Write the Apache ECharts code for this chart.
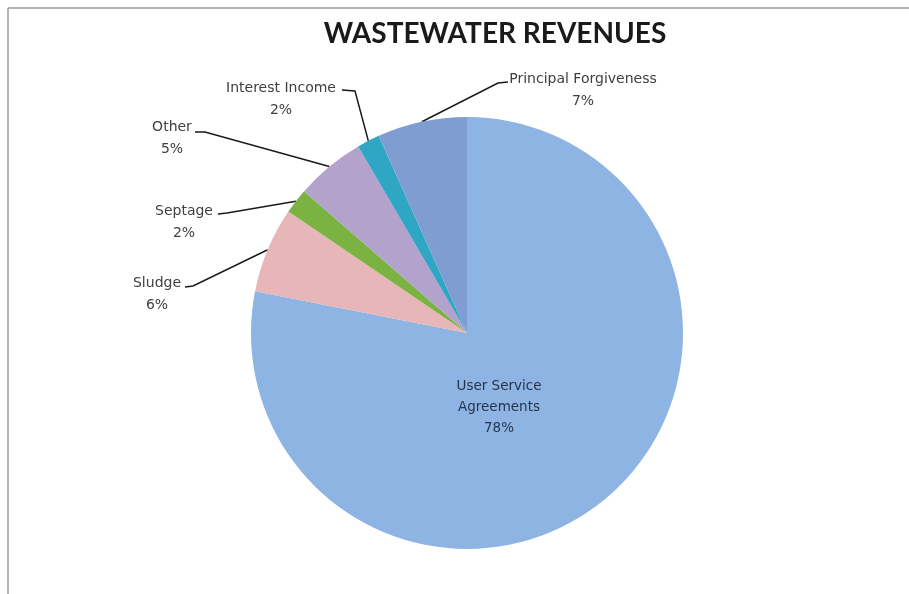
<!DOCTYPE html>
<html>
<head>
<meta charset="utf-8">
<script src="https://cdn.jsdelivr.net/npm/echarts@6/dist/echarts.min.js"></script>
<style>
html,body{margin:0;padding:0;background:#fff;}
#c{width:909px;height:594px;}
</style>
</head>
<body>
<div id="c"></div>
<script>
// Data
const categories = ['User Service Agreements', 'Sludge', 'Septage', 'Other', 'Interest Income', 'Principal Forgiveness'];
const labelNames = ['User Service\nAgreements', 'Sludge', 'Septage', 'Other', 'Interest Income', 'Principal Forgiveness'];
const values = [78.1, 6.4, 1.9, 5.2, 1.7, 6.7];
const titleText = 'WASTEWATER REVENUES';

// Styles
const colors = ['#8db4e2', '#e6b6b8', '#7ab342', '#b3a2cc', '#2ea6c4', '#7f9dd0'];
const labelPos = [
  { x: 499, y: 407 },
  { x: 157, y: 294, pts: [[193, 286], [185, 287]] },
  { x: 184, y: 222, pts: [[227, 213], [218, 214]] },
  { x: 172, y: 138, pts: [[205, 132], [195, 132]] },
  { x: 281, y: 99, pts: [[355, 91], [342, 90]] },
  { x: 583, y: 90, pts: [[498, 83], [508, 82]] }
];

const chart = echarts.init(document.getElementById('c'), null, { renderer: 'canvas' });
const data = categories.map((c, i) => ({
  name: c,
  value: values[i],
  itemStyle: { color: colors[i] },
  label: i === 0 ? { color: '#27344d', fontSize: 13.5, lineHeight: 21 } : {},
  labelLine: { show: i !== 0 }
}));

chart.setOption({
  animation: false,
  title: {
    text: titleText,
    left: 490,
    top: 15,
    textAlign: 'center',
    textStyle: { fontFamily: 'Lato', fontWeight: 'bold', fontSize: 28, color: '#1a1a1a' }
  },
  graphic: [
    { type: 'line', shape: { x1: 8, y1: 8, x2: 909, y2: 8 }, style: { stroke: '#9a9a9a', lineWidth: 1.5 } },
    { type: 'line', shape: { x1: 8, y1: 8, x2: 8, y2: 594 }, style: { stroke: '#9a9a9a', lineWidth: 1.5 } }
  ],
  series: [{
    type: 'pie',
    center: [467, 333],
    radius: 216,
    startAngle: 90,
    clockwise: true,
    percentPrecision: 0,
    avoidLabelOverlap: false,
    data: data,
    label: {
      show: true,
      position: 'outside',
      formatter: p => labelNames[p.dataIndex] + '\n' + p.percent + '%',
      fontFamily: 'DejaVu Sans',
      fontSize: 14,
      lineHeight: 22,
      color: '#404040',
      align: 'center'
    },
    labelLine: {
      show: true,
      lineStyle: { color: '#1a1a1a', width: 1.5 }
    },
    labelLayout: function (params) {
      const lp = labelPos[params.dataIndex];
      const res = { x: lp.x, y: lp.y, align: 'center', verticalAlign: 'middle' };
      if (lp.pts && params.labelLinePoints) {
        res.labelLinePoints = [params.labelLinePoints[0], lp.pts[0], lp.pts[1]];
      }
      return res;
    }
  }]
});
</script>
</body>
</html>
